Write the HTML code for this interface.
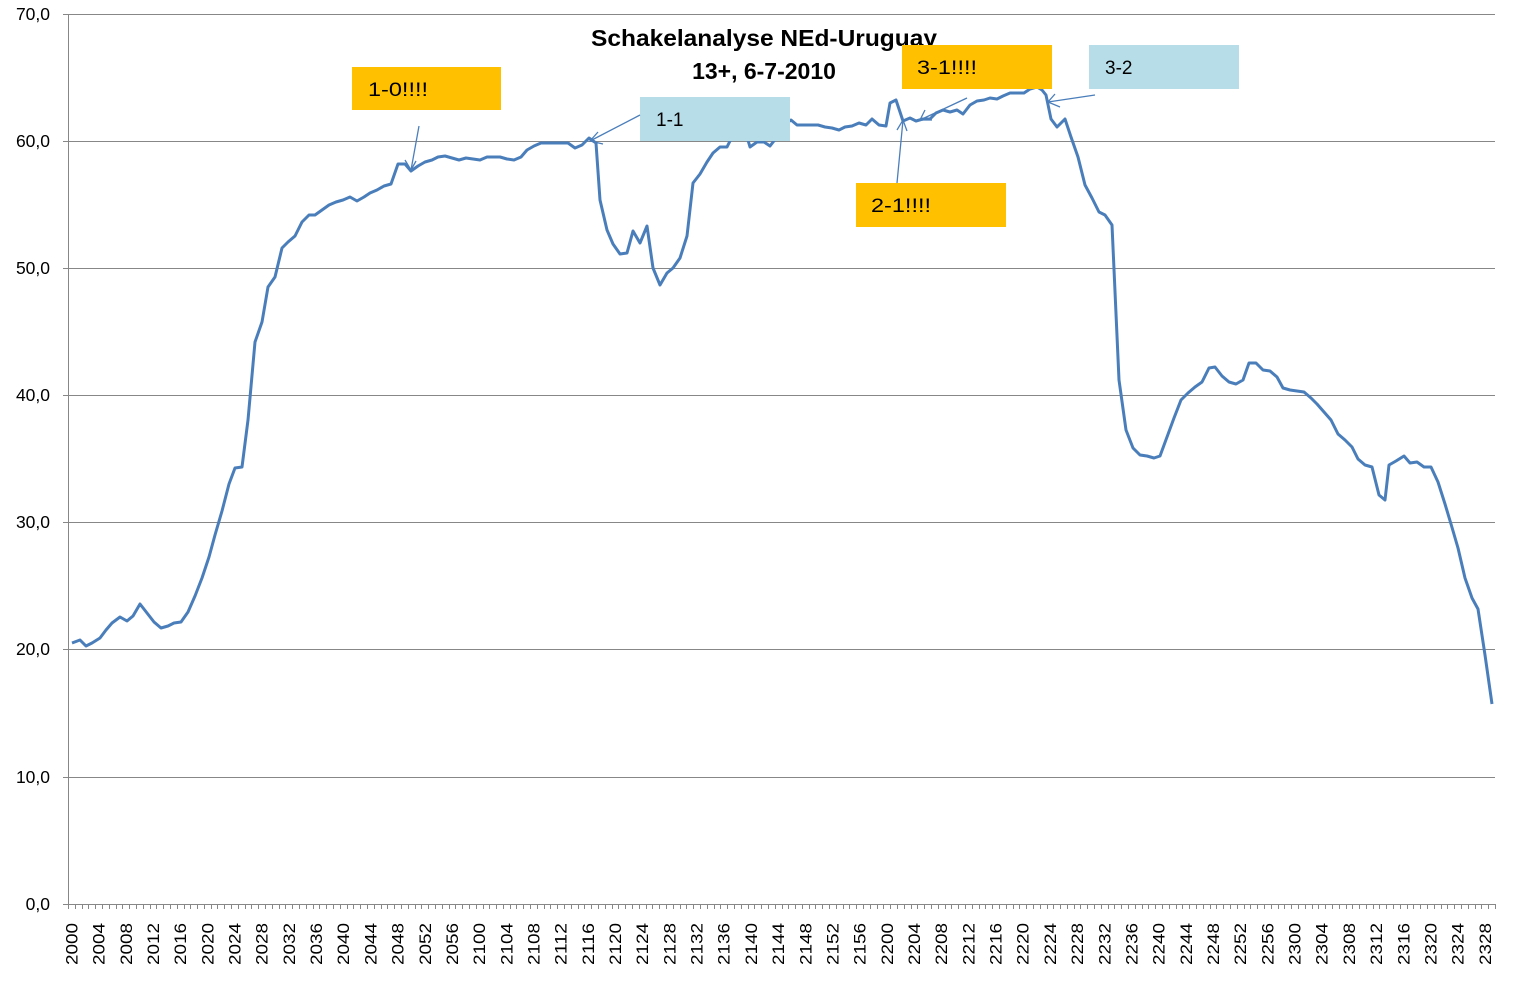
<!DOCTYPE html>
<html><head><meta charset="utf-8"><style>body{margin:0;background:#fff}svg{display:block}</style></head>
<body>
<svg width="1529" height="1000" xmlns="http://www.w3.org/2000/svg" font-family="Liberation Sans, sans-serif">
<rect width="1529" height="1000" fill="#fff"/>
<g stroke="#878787" stroke-width="1">
<line x1="63" y1="14.5" x2="1495" y2="14.5"/>
<line x1="63" y1="141.5" x2="1495" y2="141.5"/>
<line x1="63" y1="268.5" x2="1495" y2="268.5"/>
<line x1="63" y1="395.5" x2="1495" y2="395.5"/>
<line x1="63" y1="522.5" x2="1495" y2="522.5"/>
<line x1="63" y1="649.5" x2="1495" y2="649.5"/>
<line x1="63" y1="777.5" x2="1495" y2="777.5"/>
<line x1="63" y1="904.5" x2="1495" y2="904.5"/>
<line x1="68.5" y1="14" x2="68.5" y2="904"/>
</g>
<g id="ticks" stroke="#878787" stroke-width="1"></g>
<g font-size="17.5" text-anchor="end" fill="#000">
<text x="50" y="20">70,0</text><text x="50" y="147">60,0</text><text x="50" y="274">50,0</text>
<text x="50" y="401">40,0</text><text x="50" y="528">30,0</text><text x="50" y="655">20,0</text>
<text x="50" y="783">10,0</text><text x="50" y="910">0,0</text>
</g>
<g id="xl" font-size="17" fill="#000"></g>
<polyline fill="none" stroke="#4a7ebb" stroke-width="3" stroke-linejoin="round" points="72,643 80,640 86,646 92,643 100,638 106,630 112,623 120,617 127,621 133,616 140,604 147,613 154,622 161,628 168,626 174,623 181,622 188,612 195,596 202,578 209,557 215,535 222,511 229,484 235,468 242,467 248,420 255,342 262,322 268,287 275,277 282,248 288,242 295,236 302,222 309,215 315,215 322,210 329,205 336,202 343,200 350,197 357,201 364,197 370,193 377,190 384,186 391,184 398,164 405,164 411,171 418,166 425,162 432,160 438,157 445,156 452,158 459,160 466,158 473,159 480,160 487,157 493,157 500,157 507,159 514,160 521,157 527,150 534,146 541,143 548,143 555,143 562,143 568,143 575,148 582,145 589,138 596,143 600,200 607,230 613,244 620,254 627,253 633,231 640,243 647,226 653,268 660,285 667,273 673,268 680,258 687,236 693,183 700,174 707,162 713,153 720,147 727,147 733,135 740,122 745,130 750,147 757,142 764,142 770,146 777,137 784,125 791,120 797,125 805,125 812,125 818,125 825,127 832,128 839,130 845,127 852,126 859,123 866,125 872,119 879,125 886,126 890,103 896,100 903,121 910,118 916,121 923,119 930,119 936,113 943,110 950,112 957,110 963,114 970,105 977,101 984,100 990,98 997,99 1003,96 1010,93 1017,93 1024,93 1030,89 1037,87 1042,90 1046,95 1051,119 1057,127 1065,119 1071,137 1078,157 1085,185 1092,198 1099,212 1105,215 1112,225 1119,380 1126,430 1133,448 1140,455 1147,456 1154,458 1160,456 1167,437 1174,418 1181,400 1188,393 1195,387 1202,382 1209,368 1215,367 1222,376 1229,382 1236,384 1243,380 1249,363 1256,363 1263,370 1270,371 1277,377 1283,388 1290,390 1297,391 1304,392 1311,398 1317,404 1324,412 1331,420 1338,434 1345,440 1352,447 1358,459 1365,465 1372,467 1379,495 1385,500 1389,465 1396,461 1404,456 1410,463 1417,462 1424,467 1431,467 1438,482 1445,504 1451,524 1458,548 1465,578 1472,598 1478,609 1485,655 1492,704"/>
<g font-weight="bold" font-size="23" text-anchor="middle" fill="#000">
<text x="764" y="46" textLength="346" lengthAdjust="spacingAndGlyphs">Schakelanalyse NEd-Uruguay</text>
<text x="764" y="79">13+, 6-7-2010</text>
</g>
<g font-size="19" fill="#000">
<rect x="352" y="67" width="149" height="43" fill="#ffc000"/><text x="368" y="96" textLength="60" lengthAdjust="spacingAndGlyphs">1-0!!!!</text>
<rect x="640" y="97" width="150" height="44" fill="#b7dde8"/><text x="656" y="126">1-1</text>
<rect x="902" y="45" width="150" height="44" fill="#ffc000"/><text x="917" y="74" textLength="60" lengthAdjust="spacingAndGlyphs">3-1!!!!</text>
<rect x="1089" y="45" width="150" height="44" fill="#b7dde8"/><text x="1105" y="74">3-2</text>
<rect x="856" y="183" width="150" height="44" fill="#ffc000"/><text x="871" y="212" textLength="60" lengthAdjust="spacingAndGlyphs">2-1!!!!</text>
</g>
<g stroke="#4a7ebb" stroke-width="1.3" fill="none">
<line x1="419" y1="126" x2="411" y2="170"/><polyline points="405,160 411,170 416,161"/>
<line x1="640" y1="115" x2="590" y2="141"/><polyline points="598,132 590,141 603,144"/>
<line x1="897" y1="183" x2="903" y2="120"/><polyline points="897,130 903,120 907,131"/>
<line x1="967" y1="98" x2="920" y2="120"/><polyline points="925,110 920,120 932,120"/>
<line x1="1095" y1="95" x2="1048" y2="102"/><polyline points="1055,94 1048,102 1060,107"/>
</g>
<script>
var t=document.getElementById('ticks'),xl=document.getElementById('xl'),ns='http://www.w3.org/2000/svg';
var w=1427/210;
for(var i=0;i<=210;i++){var x=Math.round(68+i*w)+0.5;var l=document.createElementNS(ns,'line');l.setAttribute('x1',x);l.setAttribute('x2',x);l.setAttribute('y1',904);l.setAttribute('y2',909);t.appendChild(l);}
for(var i=0;i<210;i+=4){var h=20+Math.floor(i/60),m=i%60;var s=''+h+(m<10?'0':'')+m;var cx=68+(i+0.5)*w+6;var tx=document.createElementNS(ns,'text');tx.setAttribute('transform','translate('+cx+',965) rotate(-90)');tx.setAttribute('textLength','42');tx.setAttribute('lengthAdjust','spacingAndGlyphs');tx.textContent=s;xl.appendChild(tx);}
</script>
</svg>
</body></html>
